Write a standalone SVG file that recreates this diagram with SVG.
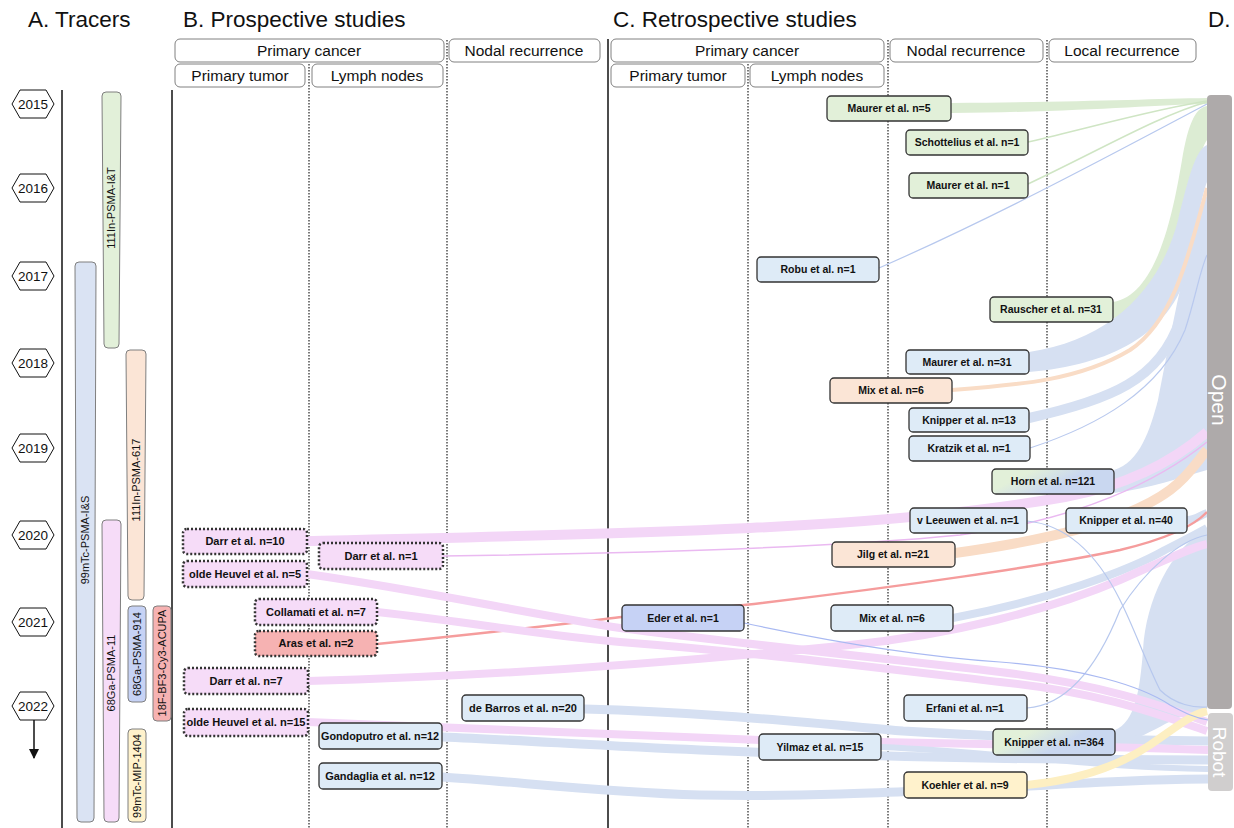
<svg xmlns="http://www.w3.org/2000/svg" width="1234" height="828" viewBox="0 0 1234 828">
<style>
text{font-family:"Liberation Sans",Arial,sans-serif;fill:#111}
.title{font-size:22.5px}
.hdr rect{fill:#fff;stroke:#808080;stroke-width:1}
.hdr text{font-size:15.5px;text-anchor:middle}
.yr polygon{fill:#fff;stroke:#111;stroke-width:1}
.yr text{font-size:13.5px;text-anchor:middle}
.tr path{stroke:#7f7f7f;stroke-width:1}
.tr text{font-size:11px;text-anchor:middle}
.rn rect{stroke:#333;stroke-width:1.3}
.rn text{font-size:10.5px;font-weight:bold;text-anchor:middle}
.pn rect{stroke:#333;stroke-width:2.5;stroke-dasharray:2 2}
.pn.solid rect{stroke-width:1.3;stroke-dasharray:none}
.pn text{font-size:11px;font-weight:bold;text-anchor:middle}
.sep{stroke:#111;stroke-width:1.5}
.dot{stroke:#333;stroke-width:1.3;stroke-dasharray:1.5 1.5}
.f{fill:none;stroke-linecap:butt}
.g{fill:#e2f0d9}.b{fill:#deebf7}.o{fill:#fbe5d6}.p{fill:#f6dcf8}.y{fill:#fff2cc}.r{fill:#f6b2b2}.l{fill:#c6d2f5}
</style>
<defs>
<linearGradient id="gb" x1="0" y1="0" x2="1" y2="0.4"><stop offset="0.3" stop-color="#e2f0d9"/><stop offset="0.7" stop-color="#c9d7f0"/></linearGradient>
<marker id="ah" viewBox="0 0 10 10" refX="9" refY="5" markerWidth="7" markerHeight="7" orient="auto"><path d="M0,0 L10,5 L0,10 Z" fill="#111"/></marker>
</defs>

<!-- titles -->
<text class="title" x="28" y="27">A. Tracers</text>
<text class="title" x="183" y="27">B. Prospective studies</text>
<text class="title" x="613" y="27">C. Retrospective studies</text>
<text class="title" x="1208" y="27">D.</text>

<!-- separators -->
<g id="separators">
<line class="sep" x1="62" y1="90" x2="62" y2="828"/>
<line class="sep" x1="172" y1="90" x2="172" y2="828"/>
<line class="sep" x1="608" y1="39" x2="608" y2="828"/>
<line class="dot" x1="309" y1="64" x2="309" y2="828"/>
<line class="dot" x1="447" y1="40" x2="447" y2="828"/>
<line class="dot" x1="748" y1="64" x2="748" y2="828"/>
<line class="dot" x1="888" y1="40" x2="888" y2="828"/>
<line class="dot" x1="1047" y1="40" x2="1047" y2="828"/>
</g>

<!-- headers -->
<g id="headers" class="hdr">
<rect x="175" y="39" width="269" height="23" rx="5"/><text x="309" y="56">Primary cancer</text>
<rect x="175" y="64" width="130" height="23" rx="5"/><text x="240" y="81">Primary tumor</text>
<rect x="312" y="64" width="131" height="23" rx="5"/><text x="377" y="81">Lymph nodes</text>
<rect x="449" y="39" width="151" height="23" rx="5"/><text x="524" y="56">Nodal recurrence</text>
<rect x="611" y="39" width="273" height="23" rx="5"/><text x="747" y="56">Primary cancer</text>
<rect x="611" y="64" width="134" height="23" rx="5"/><text x="678" y="81">Primary tumor</text>
<rect x="750" y="64" width="134" height="23" rx="5"/><text x="817" y="81">Lymph nodes</text>
<rect x="890" y="39" width="153" height="23" rx="5"/><text x="966" y="56">Nodal recurrence</text>
<rect x="1049" y="39" width="147" height="23" rx="5"/><text x="1122" y="56">Local recurrence</text>
</g>

<!-- years -->
<g id="years" class="yr">
<g id="y2015"><polygon points="12,104 20,90 46,90 54,104 46,118 20,118"/><text x="33" y="109">2015</text></g>
<g id="y2016"><polygon points="12,188 20,174 46,174 54,188 46,202 20,202"/><text x="33" y="193">2016</text></g>
<g id="y2017"><polygon points="12,276 20,262 46,262 54,276 46,290 20,290"/><text x="33" y="281">2017</text></g>
<g id="y2018"><polygon points="12,363 20,349 46,349 54,363 46,377 20,377"/><text x="33" y="368">2018</text></g>
<g id="y2019"><polygon points="12,448 20,434 46,434 54,448 46,462 20,462"/><text x="33" y="453">2019</text></g>
<g id="y2020"><polygon points="12,535 20,521 46,521 54,535 46,549 20,549"/><text x="33" y="540">2020</text></g>
<g id="y2021"><polygon points="12,622 20,608 46,608 54,622 46,636 20,636"/><text x="33" y="627">2021</text></g>
<g id="y2022"><polygon points="12,706 20,692 46,692 54,706 46,720 20,720"/><text x="33" y="711">2022</text></g>
<line x1="34" y1="720" x2="34" y2="758" stroke="#111" stroke-width="1.5" marker-end="url(#ah)"/>
</g>

<!-- tracers -->
<g id="tracers" class="tr">
<g id="t-it"><path class="g" d="M106,92 L117,92 Q121,92 121,96 L119,344 Q119,348 115,348 L108,348 Q104,348 104,344 L102,96 Q102,92 106,92 Z"/><text transform="translate(115,208) rotate(-90)">111In-PSMA-I&amp;T</text></g>
<g id="t-is"><path style="fill:#dae3f3" d="M79,262 L92,262 Q96,262 96,266 L94,818 Q94,822 90,822 L81,822 Q77,822 77,818 L75,266 Q75,262 79,262 Z"/><text transform="translate(89,540) rotate(-90)">99mTc-PSMA-I&amp;S</text></g>
<g id="t-617"><path class="o" d="M130,350 L142,350 Q146,350 146,354 L144,596 Q144,600 140,600 L132,600 Q128,600 128,596 L126,354 Q126,350 130,350 Z"/><text transform="translate(140,480) rotate(-90)">111In-PSMA-617</text></g>
<g id="t-11"><path class="p" d="M106,520 L117,520 Q121,520 121,524 L119,818 Q119,822 115,822 L108,822 Q104,822 104,818 L102,524 Q102,520 106,520 Z"/><text transform="translate(115,673) rotate(-90)">68Ga-PSMA-11</text></g>
<g id="t-914"><rect x="128" y="606" width="18" height="96" rx="4" class="l" style="stroke:#7f7f7f"/><text transform="translate(141,654) rotate(-90)">68Ga-PSMA-914</text></g>
<g id="t-acupa"><rect x="153" y="606" width="18" height="115" rx="4" class="r" style="stroke:#7f7f7f"/><text transform="translate(166,663) rotate(-90)">18F-BF3-Cy3-ACUPA</text></g>
<g id="t-1404"><rect x="128" y="729" width="18" height="93" rx="4" class="y" style="stroke:#7f7f7f"/><text transform="translate(141,776) rotate(-90)">99mTc-MIP-1404</text></g>
</g>

<!-- connectors -->
<g id="connectors">
<path d="M1114,470 C1140,462 1150,430 1158,400 C1170,340 1185,250 1207,195 L1207,470 C1180,478 1150,488 1114,493 Z" fill="#d6e0f2"/>
<path d="M1115,730 C1135,722 1140,690 1143,650 C1146,600 1170,550 1207,528 L1207,709 C1170,715 1150,738 1115,745 Z" fill="#d6e0f2"/>
<path d="M951,103 C1080,102 1150,99 1207,98 L1207,104 C1150,105 1080,112 951,113 Z" fill="#dcecd3"/>
<path d="M1113,302 C1160,295 1175,200 1182,160 C1188,125 1195,108 1207,106 L1207,140 C1200,150 1197,170 1195,200 C1190,270 1160,315 1113,318 Z" fill="#dcecd3"/>
<path d="M1029,352 C1110,340 1160,290 1178,220 C1188,180 1195,150 1207,145 L1207,182 C1200,200 1195,240 1188,270 C1170,335 1110,365 1029,372 Z" fill="#d6e0f2"/>
<path class="f" d="M1028,142 C1100,125 1160,108 1207,101" stroke="#cfe5c4" stroke-width="1.5"/>
<path class="f" d="M1028,184 C1100,150 1160,115 1207,102" stroke="#cfe5c4" stroke-width="1.5"/>
<path class="f" d="M879,268 C1000,215 1120,150 1207,104" stroke="#b7c8ee" stroke-width="1.2"/>
<path class="f" d="M1029,418 C1110,400 1160,380 1180,320 C1192,280 1198,230 1207,210" stroke="#d6e0f2" stroke-width="10"/>
<path class="f" d="M952,390 C1020,385 1080,380 1130,350 C1175,320 1190,250 1207,188" stroke="#f9dcc6" stroke-width="4"/>
<path class="f" d="M1030,448 C1100,425 1160,390 1185,330 C1195,300 1200,270 1207,255" stroke="#b9c9ee" stroke-width="1.2"/>
<path class="f" d="M307,541 C450,538 600,535 750,528 C880,522 980,512 1065,497 C1130,485 1175,460 1207,432" stroke="#f3d6f7" stroke-width="10"/>
<path class="f" d="M443,556 C650,553 850,546 960,535 C1080,520 1160,480 1207,442" stroke="#eab9f1" stroke-width="1.5"/>
<path class="f" d="M955,553 C1050,540 1130,520 1170,490 C1190,475 1198,460 1207,450" stroke="#f9dcc6" stroke-width="10"/>
<path class="f" d="M1187,520 C1197,520 1200,515 1207,513" stroke="#d6e0f2" stroke-width="8"/>
<path class="f" d="M953,618 C1050,600 1130,570 1165,550 C1185,540 1198,533 1207,528" stroke="#d6e0f2" stroke-width="8"/>
<path class="f" d="M308,681 C500,676 700,660 850,645 C950,635 1050,610 1120,580 C1165,560 1190,548 1207,544" stroke="#f3d6f7" stroke-width="8"/>
<path class="f" d="M377,644 C500,632 580,622 622,617 L744,605 C900,587 1050,565 1120,550 C1170,538 1195,525 1207,512" stroke="#f59c9c" stroke-width="2.5"/>
<path class="f" d="M307,574 C420,590 520,612 620,628 C750,645 900,660 1000,672 C1100,684 1160,705 1207,722" stroke="#f3d6f7" stroke-width="8"/>
<path class="f" d="M377,612 C470,622 540,635 620,642 C750,652 880,668 1000,682 C1100,692 1160,715 1207,731" stroke="#f3d6f7" stroke-width="8"/>
<path class="f" d="M584,709 C700,712 800,722 903,731 C1000,737 1100,740 1208,741" stroke="#d6e0f2" stroke-width="9"/>
<path class="f" d="M308,722 C450,728 600,735 760,740 C900,742 1050,745 1208,750" stroke="#f3d6f7" stroke-width="8"/>
<path class="f" d="M442,737 C520,740 600,746 700,750 C850,756 1000,760 1208,760" stroke="#d6e0f2" stroke-width="9"/>
<path class="f" d="M881,747 C1000,752 1100,768 1208,769" stroke="#d6e0f2" stroke-width="6"/>
<path class="f" d="M442,777 C520,782 600,792 700,795 C800,797 880,793 1030,786 C1100,782 1160,779 1208,779" stroke="#d6e0f2" stroke-width="9"/>
<path class="f" d="M1027,785 C1080,780 1120,765 1150,745 C1175,728 1190,715 1207,711" stroke="#fdefc2" stroke-width="8"/>
<path class="f" d="M1027,521 C1070,525 1100,560 1120,600 C1135,630 1145,660 1160,690 C1175,705 1195,708 1207,707" stroke="#b7c8ee" stroke-width="1.2"/>
<path class="f" d="M1027,708 C1070,705 1100,660 1120,610 C1145,570 1180,540 1207,535" stroke="#b7c8ee" stroke-width="1.2"/>
<path class="f" d="M744,623 C800,635 900,655 1000,662 C1080,668 1140,685 1170,705 C1185,713 1195,718 1208,720" stroke="#a9b9f2" stroke-width="1.2"/>
</g>

<!-- treatment bars -->
<g id="open"><rect x="1207" y="95" width="25" height="614" rx="4" fill="#aeaaaa"/><text transform="translate(1212,400) rotate(90)" style="font-size:21px;fill:#fff;text-anchor:middle">Open</text></g>
<g id="robot"><rect x="1208" y="713" width="25" height="78" rx="4" fill="#d0cece"/><text transform="translate(1213,752) rotate(90)" style="font-size:19px;fill:#fff;text-anchor:middle">Robot</text></g>

<!-- prospective nodes -->
<g id="p-darr10" class="pn"><rect class="p" x="183" y="529" width="124" height="25" rx="4"/><text x="245" y="545">Darr et al. n=10</text></g>
<g id="p-oh5" class="pn"><rect class="p" x="183" y="561" width="124" height="26" rx="4"/><text x="245" y="578">olde Heuvel et al. n=5</text></g>
<g id="p-darr1" class="pn"><rect class="p" x="319" y="543" width="124" height="26" rx="4"/><text x="381" y="560">Darr et al. n=1</text></g>
<g id="p-collamati" class="pn"><rect class="p" x="255" y="599" width="122" height="26" rx="4"/><text x="316" y="616">Collamati et al. n=7</text></g>
<g id="p-aras" class="pn"><rect class="r" x="255" y="631" width="122" height="25" rx="4"/><text x="316" y="647">Aras et al. n=2</text></g>
<g id="p-darr7" class="pn"><rect class="p" x="184" y="668" width="124" height="26" rx="4"/><text x="246" y="685">Darr et al. n=7</text></g>
<g id="p-oh15" class="pn"><rect class="p" x="184" y="709" width="124" height="27" rx="4"/><text x="246" y="726" textLength="119" lengthAdjust="spacingAndGlyphs">olde Heuvel et al. n=15</text></g>
<g id="p-gondoputro" class="pn solid"><rect class="b" x="319" y="723" width="123" height="26" rx="4"/><text x="380" y="740" textLength="118" lengthAdjust="spacingAndGlyphs">Gondoputro et al. n=12</text></g>
<g id="p-gandaglia" class="pn solid"><rect class="b" x="319" y="763" width="123" height="26" rx="4"/><text x="380" y="780">Gandaglia et al. n=12</text></g>
<g id="p-debarros" class="pn solid"><rect class="b" x="462" y="695" width="122" height="26" rx="4"/><text x="523" y="712">de Barros et al. n=20</text></g>

<!-- retrospective nodes -->
<g id="r-maurer5" class="rn"><rect class="g" x="827" y="96" width="124" height="25" rx="4"/><text x="889" y="112">Maurer et al. n=5</text></g>
<g id="r-schottelius" class="rn"><rect class="g" x="906" y="130" width="122" height="25" rx="4"/><text x="967" y="146">Schottelius et al. n=1</text></g>
<g id="r-maurer1" class="rn"><rect class="g" x="909" y="173" width="119" height="25" rx="4"/><text x="968" y="189">Maurer et al. n=1</text></g>
<g id="r-robu" class="rn"><rect class="b" x="757" y="257" width="122" height="25" rx="4"/><text x="818" y="273">Robu et al. n=1</text></g>
<g id="r-rauscher" class="rn"><rect class="g" x="990" y="297" width="123" height="25" rx="4"/><text x="1051" y="313">Rauscher et al. n=31</text></g>
<g id="r-maurer31" class="rn"><rect class="b" x="906" y="350" width="123" height="24" rx="4"/><text x="967" y="366">Maurer et al. n=31</text></g>
<g id="r-mix6o" class="rn"><rect class="o" x="830" y="378" width="122" height="25" rx="4"/><text x="891" y="394">Mix et al. n=6</text></g>
<g id="r-knipper13" class="rn"><rect class="b" x="909" y="408" width="120" height="24" rx="4"/><text x="969" y="424">Knipper et al. n=13</text></g>
<g id="r-kratzik" class="rn"><rect class="b" x="909" y="436" width="121" height="25" rx="4"/><text x="969" y="452">Kratzik et al. n=1</text></g>
<g id="r-horn" class="rn"><rect fill="url(#gb)" x="992" y="469" width="122" height="25" rx="4"/><text x="1053" y="485">Horn et al. n=121</text></g>
<g id="r-vleeuwen" class="rn"><rect class="b" x="910" y="508" width="117" height="25" rx="4"/><text x="968" y="524">v Leeuwen et al. n=1</text></g>
<g id="r-knipper40" class="rn"><rect class="b" x="1066" y="508" width="121" height="25" rx="4"/><text x="1126" y="524">Knipper et al. n=40</text></g>
<g id="r-jilg" class="rn"><rect class="o" x="832" y="542" width="123" height="25" rx="4"/><text x="893" y="558">Jilg et al. n=21</text></g>
<g id="r-eder" class="rn"><rect class="l" x="622" y="605" width="122" height="26" rx="4"/><text x="683" y="622">Eder et al. n=1</text></g>
<g id="r-mix6b" class="rn"><rect class="b" x="831" y="605" width="122" height="26" rx="4"/><text x="892" y="622">Mix et al. n=6</text></g>
<g id="r-erfani" class="rn"><rect class="b" x="904" y="695" width="123" height="26" rx="4"/><text x="965" y="712">Erfani et al. n=1</text></g>
<g id="r-yilmaz" class="rn"><rect class="b" x="759" y="734" width="122" height="26" rx="4"/><text x="820" y="751">Yilmaz et al. n=15</text></g>
<g id="r-knipper364" class="rn"><rect fill="url(#gb)" x="993" y="729" width="122" height="26" rx="4"/><text x="1054" y="746">Knipper et al. n=364</text></g>
<g id="r-koehler" class="rn"><rect class="y" x="904" y="772" width="123" height="26" rx="4"/><text x="965" y="789">Koehler et al. n=9</text></g>
</svg>
